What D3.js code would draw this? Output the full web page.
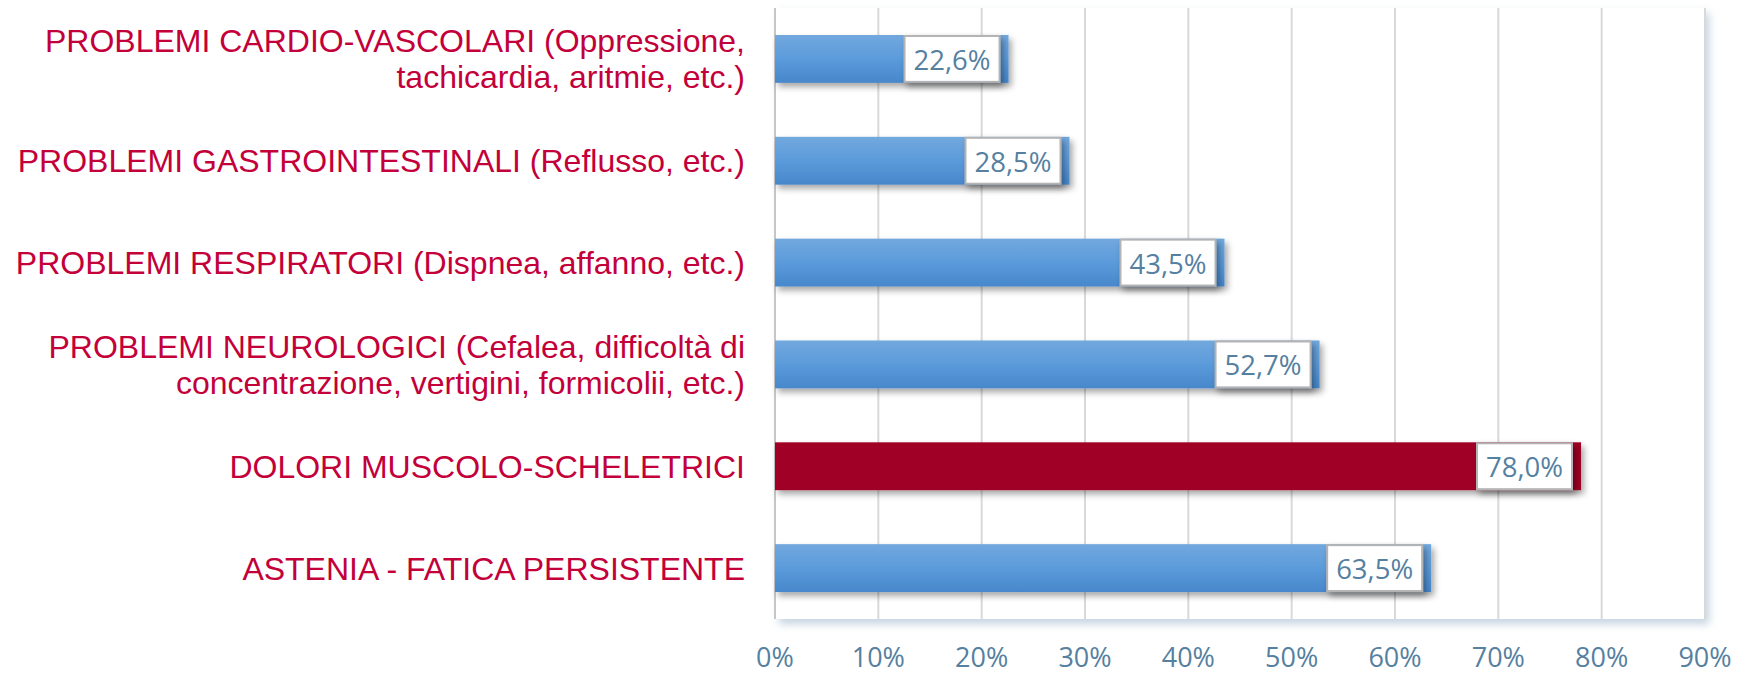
<!DOCTYPE html>
<html>
<head>
<meta charset="utf-8">
<script src="https://cdn.jsdelivr.net/npm/d3@7"></script>
<style>
  body { margin:0; background:#fff; }
  .cat { font-family:"Liberation Sans", Arial, sans-serif; font-size:32px; fill:#c3003a; }
  .tick-lbl, .val { font-family:"Open Sans", sans-serif; font-size:27px; fill:#55809f; }
  .val { font-size:27.5px; }
</style>
</head>
<body>
<div id="chart"></div>
<script>
// categories from top to bottom, lines split with \n
const categories = [
  "PROBLEMI CARDIO-VASCOLARI (Oppressione,\ntachicardia, aritmie, etc.)",
  "PROBLEMI GASTROINTESTINALI (Reflusso, etc.)",
  "PROBLEMI RESPIRATORI (Dispnea, affanno, etc.)",
  "PROBLEMI NEUROLOGICI (Cefalea, difficoltà di\nconcentrazione, vertigini, formicolii, etc.)",
  "DOLORI MUSCOLO-SCHELETRICI",
  "ASTENIA - FATICA PERSISTENTE"
];
const values = [22.6, 28.5, 43.5, 52.7, 78.0, 63.5];
const highlight = [false, false, false, false, true, false];
const ticks = [0, 10, 20, 30, 40, 50, 60, 70, 80, 90];

const W = 1742, H = 675;
const m = {top:8, right:37, bottom:56, left:775};

const svg = d3.select("#chart").append("svg")
  .attr("width", W).attr("height", H);

const defs = svg.append("defs");
const grad = defs.append("linearGradient").attr("id","barGrad")
  .attr("x1",0).attr("y1",0).attr("x2",0).attr("y2",1);
grad.append("stop").attr("offset","0%").attr("stop-color","#72a8de");
grad.append("stop").attr("offset","50%").attr("stop-color","#5b9bdb");
grad.append("stop").attr("offset","100%").attr("stop-color","#4787cb");

const fPlot = defs.append("filter").attr("id","plotShadow")
  .attr("x","-5%").attr("y","-5%").attr("width","112%").attr("height","115%");
fPlot.append("feDropShadow").attr("dx",4).attr("dy",5).attr("stdDeviation",4)
  .attr("flood-color","#9db5cc").attr("flood-opacity",0.6);

const fBar = defs.append("filter").attr("id","barShadow")
  .attr("x","-5%").attr("y","-20%").attr("width","115%").attr("height","150%");
fBar.append("feDropShadow").attr("dx",3).attr("dy",4).attr("stdDeviation",3)
  .attr("flood-color","#000").attr("flood-opacity",0.35);

const x = d3.scaleLinear().domain([0, 90]).range([m.left, W - m.right]);
const y = d3.scaleBand().domain(d3.range(categories.length))
  .range([m.top, H - m.bottom]).paddingInner(0.53).paddingOuter(0.265);

// plot area
svg.append("rect")
  .attr("x", x(0)).attr("y", m.top)
  .attr("width", x(90) - x(0)).attr("height", H - m.bottom - m.top)
  .attr("fill", "#fff").attr("filter","url(#plotShadow)");

// gridlines
svg.append("g").selectAll("line")
  .data(ticks.slice(1))
  .join("line")
  .attr("x1", d => x(d)).attr("x2", d => x(d))
  .attr("y1", m.top).attr("y2", H - m.bottom)
  .attr("stroke", "#d9d9d9").attr("stroke-width", 2);

svg.append("line")
  .attr("x1", x(0)).attr("x2", x(0))
  .attr("y1", m.top).attr("y2", H - m.bottom)
  .attr("stroke", "#c6c6c6").attr("stroke-width", 2);

// tick labels
svg.append("g").selectAll("text")
  .data(ticks)
  .join("text")
  .attr("class","tick-lbl")
  .attr("x", d => x(d)).attr("y", 667)
  .attr("text-anchor","middle")
  .text(d => d + "%");

// bars
svg.append("g").selectAll("rect")
  .data(values)
  .join("rect")
  .attr("x", x(0)).attr("y", (d,i) => y(i))
  .attr("width", d => x(d) - x(0)).attr("height", y.bandwidth())
  .attr("fill", (d,i) => highlight[i] ? "#a00025" : "url(#barGrad)")
  .attr("filter","url(#barShadow)");

// value boxes
const fmt = d => d.toFixed(1).replace(".", ",") + "%";
const boxW = 95;
const vg = svg.append("g").selectAll("g")
  .data(values)
  .join("g");
vg.append("rect")
  .attr("x", d => x(d) - 9 - boxW).attr("y", (d,i) => y(i) + 1)
  .attr("width", boxW).attr("height", y.bandwidth() - 2)
  .attr("fill","#fff").attr("stroke","#b4b4b4").attr("stroke-width",2)
  .attr("filter","url(#barShadow)");
vg.append("text")
  .attr("class","val")
  .attr("x", d => x(d) - 9 - boxW/2)
  .attr("y", (d,i) => y(i) + y.bandwidth()/2 + 11)
  .attr("text-anchor","middle")
  .text(fmt);

// category labels
const lineH = 36, capH = 23;
svg.append("g").selectAll("text")
  .data(categories)
  .join("text")
  .attr("class","cat")
  .attr("text-anchor","end")
  .each(function(d, i) {
    const lines = d.split("\n");
    const cy = y(i) + y.bandwidth()/2;
    d3.select(this).selectAll("tspan")
      .data(lines)
      .join("tspan")
      .attr("x", m.left - 30)
      .attr("y", (l, j) => cy + capH/2 + (j - (lines.length-1)/2) * lineH)
      .text(l => l);
  });
</script>
</body>
</html>
